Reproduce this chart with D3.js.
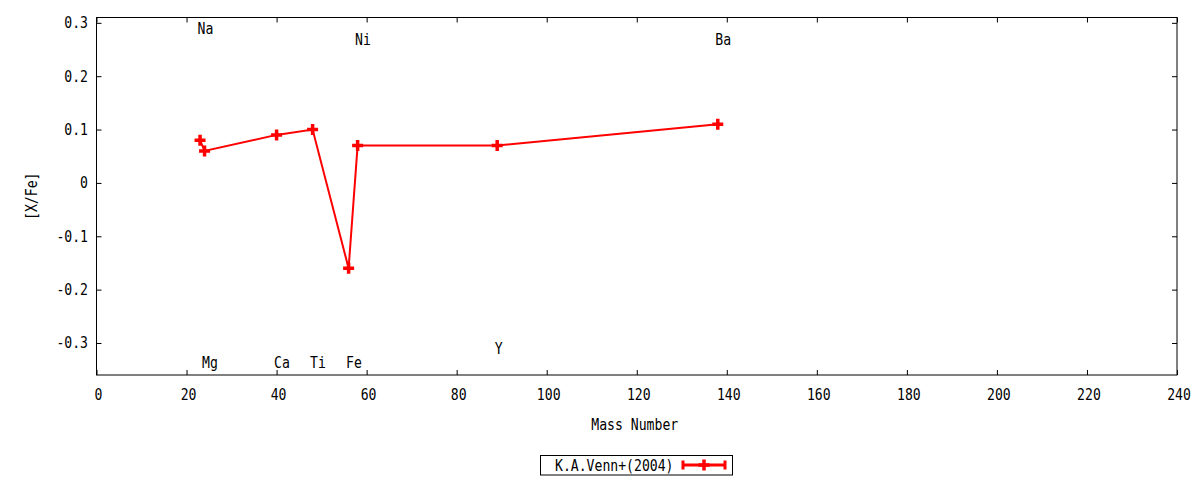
<!DOCTYPE html>
<html><head><meta charset="utf-8">
<script src="https://cdn.jsdelivr.net/npm/d3@7"></script>
<style>html,body{margin:0;padding:0;background:#fff;}svg{display:block;}</style>
</head><body><div id="chart"></div>
<script>
// Data
const elements = ["Na","Mg","Ca","Ti","Fe","Ni","Y","Ba"];
const massNumber = [23, 24, 40, 48, 56, 58, 89, 138];
const xFe = [0.08, 0.06, 0.09, 0.10, -0.16, 0.07, 0.07, 0.11];
const labelNames = ["Na","Ni","Ba","Mg","Ca","Ti","Fe","Y"];
const labelMass = [23, 58, 138, 24, 40, 48, 56, 89];
const labelValue = [0.29, 0.27, 0.27, -0.336, -0.336, -0.336, -0.336, -0.31];
const xTicks = [0,20,40,60,80,100,120,140,160,180,200,220,240];
const yTicks = [-0.3,-0.2,-0.1,0,0.1,0.2,0.3];
const yTickLabels = ["-0.3","-0.2","-0.1","0","0.1","0.2","0.3"];
const seriesName = "K.A.Venn+(2004)";

const W = 1200, H = 480;
const L = 96.5, R = 1177, T = 17.5, B = 375;
const FONT = "'DejaVu Sans Mono', monospace";
const CW = 7.9;
const RED = "#ff0000";

const svg = d3.select("#chart").append("svg").attr("width", W).attr("height", H);
const x = d3.scaleLinear().domain([0, 240]).range([L, R]);
const y = d3.scaleLinear().domain([-0.36, 0.31]).range([B, T]);

function txt(g, s, xx, yy, anchor) {
  return g.append("text").attr("x", xx).attr("y", yy)
    .attr("text-anchor", anchor || "start")
    .attr("font-family", FONT).attr("font-size", 16).attr("fill", "#000")
    .attr("textLength", s.length * CW).attr("lengthAdjust", "spacingAndGlyphs")
    .text(s);
}

// frame
svg.append("rect").attr("x", L).attr("y", T).attr("width", R - L).attr("height", B - T)
  .attr("fill", "none").attr("stroke", "#000").attr("stroke-width", 1);

// axes via d3 axes (inward ticks)
const gx = svg.append("g").attr("transform", `translate(0,${B})`)
  .call(d3.axisTop(x).tickValues(xTicks).tickSize(5).tickFormat(""));
const gxt = svg.append("g").attr("transform", `translate(0,${T})`)
  .call(d3.axisBottom(x).tickValues(xTicks).tickSize(5).tickFormat(""));
const gy = svg.append("g").attr("transform", `translate(${L},0)`)
  .call(d3.axisRight(y).tickValues(yTicks).tickSize(5).tickFormat(""));
const gyr = svg.append("g").attr("transform", `translate(${R},0)`)
  .call(d3.axisLeft(y).tickValues(yTicks).tickSize(5).tickFormat(""));
[gx, gxt, gy, gyr].forEach(g => { g.select(".domain").remove(); g.selectAll("line").attr("stroke", "#000"); });

// tick labels
xTicks.forEach(v => txt(svg, String(v), x(v) + 2, 400, "middle"));
yTicks.forEach((v, i) => txt(svg, yTickLabels[i], 88, y(v) + 5.5, "end"));

// axis titles
txt(svg, "Mass Number", (L + R) / 2 - 2, 430, "middle");
const yt = txt(svg, "[X/Fe]", 0, 0, "middle");
yt.attr("transform", `translate(37,${(T + B) / 2}) rotate(-90)`);

// element labels
labelNames.forEach((n, i) => txt(svg, n, x(labelMass[i]) - 2.5, y(labelValue[i]) + 6, "start"));

// line
const line = d3.line().x((d, i) => x(massNumber[i])).y((d, i) => y(xFe[i]));
svg.append("path").datum(xFe).attr("d", line).attr("fill", "none")
  .attr("stroke", RED).attr("stroke-width", 2).attr("stroke-linejoin", "miter");

// markers
const plus = (g, cx, cy, s) => {
  g.append("path").attr("d", `M${cx - s},${cy}H${cx + s}M${cx},${cy - s}V${cy + s}`)
    .attr("stroke", RED).attr("stroke-width", 3.5).attr("fill", "none");
};
xFe.forEach((v, i) => plus(svg, x(massNumber[i]), y(v), 5.5));

// legend
const lg = svg.append("g");
lg.append("rect").attr("x", 540.5).attr("y", 455.5).attr("width", 192).attr("height", 19.5)
  .attr("fill", "#fff").attr("stroke", "#000").attr("stroke-width", 1);
txt(lg, seriesName, 555, 471, "start");
lg.append("path").attr("d", "M683,465H725M683,460.5V469.5M725,460.5V469.5")
  .attr("stroke", RED).attr("stroke-width", 3).attr("fill", "none");
plus(lg, 704, 465, 5.5);
</script></body></html>
